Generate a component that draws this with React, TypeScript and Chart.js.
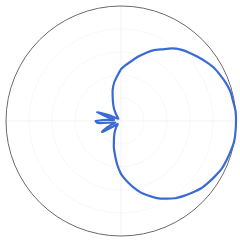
import React, { useEffect, useRef } from "react";
import { Chart, registerables } from "chart.js";

Chart.register(...registerables);

// Angles in degrees, measured counter-clockwise from the right (east) axis
const angles: number[] = [
  0, 5, 10, 15, 20, 25, 30, 35, 40, 45, 50, 55, 60, 65, 70, 75, 80, 85,
  90, 95, 100, 105, 110, 115, 120, 125, 130, 135, 140, 145, 150, 155, 160, 165, 170, 175,
  180, 185, 190, 195, 200, 205, 210, 215, 220, 225, 230, 235, 240, 245, 250, 255, 260, 265,
  270, 275, 280, 285, 290, 295, 300, 305, 310, 315, 320, 325, 330, 335, 340, 345, 350, 355,
];

// Relative gain (0..1) at each angle
const gain: number[] = [
  1.0, 1.0, 0.99, 0.985, 0.97, 0.95, 0.93, 0.9, 0.87, 0.84, 0.81, 0.77, 0.72, 0.68, 0.63, 0.58, 0.53, 0.49,
  0.45, 0.39, 0.34, 0.28, 0.21, 0.16, 0.12, 0.08, 0.05, 0.04, 0.03, 0.04, 0.06, 0.12, 0.22, 0.1, 0.06, 0.12,
  0.22, 0.2, 0.08, 0.05, 0.08, 0.14, 0.19, 0.08, 0.04, 0.04, 0.06, 0.08, 0.11, 0.14, 0.18, 0.24, 0.3, 0.38,
  0.46, 0.52, 0.58, 0.64, 0.69, 0.74, 0.78, 0.82, 0.85, 0.88, 0.91, 0.93, 0.95, 0.97, 0.98, 0.99, 1.0, 1.0,
];

const rMin = 0;
const rMax = 1;
const rStep = 0.2;

export default function App() {
  const ref = useRef<HTMLCanvasElement | null>(null);

  useEffect(() => {
    document.body.style.margin = "0";
    const canvas = ref.current;
    if (!canvas) return;
    const n = angles.length;
    // radar goes clockwise from startAngle; map to counter-clockwise math angles
    const labels = angles.map((_, i) => angles[(n - i) % n] + "°");
    const data = angles.map((_, i) => gain[(n - i) % n]);

    const chart = new Chart(canvas, {
      type: "radar",
      data: {
        labels,
        datasets: [
          {
            data,
            borderColor: "#3a6bd4",
            borderWidth: 2.2,
            pointRadius: 0,
            pointHoverRadius: 0,
            fill: false,
            tension: 0.2,
          },
        ],
      },
      options: {
        animation: false,
        responsive: true,
        maintainAspectRatio: false,
        layout: { padding: { left: 6, right: 3, top: 6, bottom: 5 } },
        plugins: { legend: { display: false }, tooltip: { enabled: false } },
        scales: {
          r: {
            min: rMin,
            max: rMax,
            startAngle: 90,
            ticks: { display: false, stepSize: rStep },
            pointLabels: { display: false },
            grid: {
              circular: true,
              color: (ctx: any) =>
                ctx.tick && ctx.tick.value === rMax ? "#6a6a6a" : "rgba(0,0,0,0.03)",
              lineWidth: 1,
            },
            angleLines: {
              display: true,
              color: (ctx: any) => (ctx.index % 18 === 0 ? "rgba(0,0,0,0.05)" : "rgba(0,0,0,0)"),
            },
          },
        },
      },
    });
    return () => chart.destroy();
  }, []);

  return (
    <div style={{ position: "fixed", left: 0, top: 0, width: 240, height: 241, background: "#fff" }}>
      <canvas ref={ref} />
    </div>
  );
}
